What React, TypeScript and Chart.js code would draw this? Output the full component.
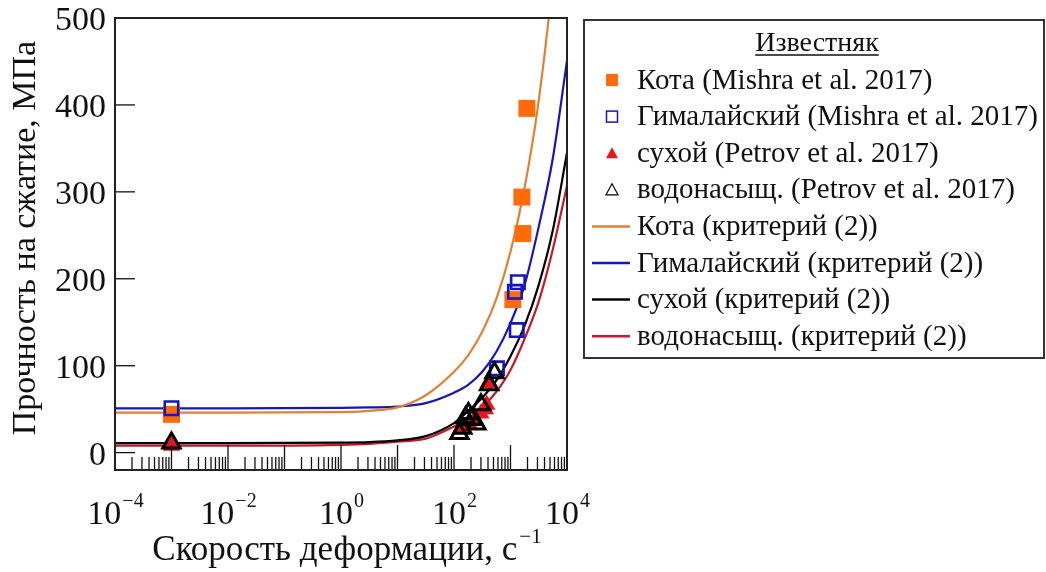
import React, { useEffect, useRef } from "react";
import { Chart, registerables } from "chart.js";

Chart.register(...registerables);

// Strain rates (1/s) at which the criterion (2) curves are sampled
const curveRates = [1e-4, 0.01, 1, 3.16, 10, 31.6, 100, 178, 316, 562, 1000, 1778, 3162, 5623, 10000];
// Criterion (2) strength, MPa
const kotaCurve = [46, 46, 46.5, 48, 52, 66, 93, 112, 139, 177, 231, 305, 405, 546, 738];
const himalayanCurve = [51, 51, 51.5, 52, 53, 57, 69, 78, 93, 116, 149, 193, 260, 339, 451];
const dryCurve = [11, 11, 11.5, 12, 14, 19, 34, 48, 63, 83, 111, 146, 193, 256, 345];
const wetCurve = [8, 8, 9, 10, 12.5, 16, 30, 39, 52, 70, 95, 131, 174, 234, 307];

// Experimental points
const kotaRates = [0.001, 1100, 1590, 1660, 1950];
const kotaStrength = [44, 176, 294, 252, 396];
const himalayanRates = [0.001, 575, 1200, 1290, 1350];
const himalayanStrength = [51, 97, 185, 141, 196];
const dryRates = [0.001, 150, 190, 240, 300, 360, 380, 400];
const dryStrength = [8, 28, 32, 38, 45, 50, 55, 80];
const wetRates = [0.001, 125, 140, 160, 180, 210, 250, 300, 420, 520];
const wetStrength = [11, 22, 28, 40, 45, 38, 33, 55, 78, 92];

// Axis ticks
const yTicks = [0, 100, 200, 300, 400, 500];
const xDecades = [-4, -3, -2, -1, 0, 1, 2, 3];
const xLabelExponents = [-4, -2, 0, 2, 4];

const legendTitle = "Известняк";
const legendLabels = [
  "Кота (Mishra et al. 2017)",
  "Гималайский (Mishra et al. 2017)",
  "сухой (Petrov et al. 2017)",
  "водонасыщ. (Petrov et al. 2017)",
  "Кота (критерий (2))",
  "Гималайский (критерий (2))",
  "сухой (критерий (2))",
  "водонасыщ. (критерий (2))",
];

const xTitle = "Скорость деформации, с";
const xTitleSup = "−1";
const yTitle = "Прочность на сжатие, МПа";

const ORANGE_PT = "#ff6a0a";
const ORANGE_LN = "#df8236";
const BLUE = "#1616bc";
const RED_PT = "#e8141e";
const RED_LN = "#c41a2c";
const BLACK = "#000000";

const SERIF = '"Liberation Serif", "Times New Roman", serif';

const toXY = (xs: number[], ys: number[]) => xs.map((x, i) => ({ x, y: ys[i] }));

const decorPlugin = {
  id: "decor",
  afterDatasetsDraw(chart: any) {
    const { ctx, chartArea: a, scales } = chart;
    const xs = scales.x;
    const ys = scales.y;
    ctx.save();

    const seg = (x1: number, y1: number, x2: number, y2: number) => {
      ctx.beginPath();
      ctx.moveTo(x1, y1);
      ctx.lineTo(x2, y2);
      ctx.stroke();
    };

    // inward ticks on the bottom axis (log decades with minor ticks)
    ctx.strokeStyle = "#111";
    ctx.lineWidth = 1.3;
    for (const d of xDecades) {
      for (let m = 1; m <= 9; m++) {
        const px = xs.getPixelForValue(m * Math.pow(10, d));
        seg(px, a.bottom, px, a.bottom - (m === 1 ? 25 : 13));
      }
    }
    // inward ticks on the left axis
    for (const t of yTicks) {
      const py = ys.getPixelForValue(t);
      seg(a.left, py, a.left + 20, py);
    }

    // plot frame
    ctx.strokeStyle = "#222";
    ctx.lineWidth = 2;
    ctx.strokeRect(a.left, a.top, a.right - a.left, a.bottom - a.top);

    ctx.fillStyle = "#111";
    // y tick labels
    ctx.font = `34px ${SERIF}`;
    ctx.textAlign = "right";
    ctx.textBaseline = "middle";
    for (const t of yTicks) {
      ctx.fillText(String(t), a.left - 9, ys.getPixelForValue(t) + 3);
    }

    // x tick labels, 10 with a raised exponent
    ctx.textAlign = "left";
    ctx.textBaseline = "alphabetic";
    for (const e of xLabelExponents) {
      const px = xs.getPixelForValue(Math.pow(10, e));
      const base = "10";
      const sup = e < 0 ? "−" + Math.abs(e) : String(e);
      ctx.font = `34px ${SERIF}`;
      const wb = ctx.measureText(base).width;
      ctx.font = `20px ${SERIF}`;
      const ws = ctx.measureText(sup).width;
      const x0 = px - (wb + ws) / 2;
      ctx.font = `34px ${SERIF}`;
      ctx.fillText(base, x0, a.bottom + 54);
      ctx.font = `20px ${SERIF}`;
      ctx.fillText(sup, x0 + wb + 1, a.bottom + 37);
    }

    // x axis title
    ctx.font = `35px ${SERIF}`;
    const wt = ctx.measureText(xTitle).width;
    ctx.font = `21px ${SERIF}`;
    const wts = ctx.measureText(xTitleSup).width;
    const tx0 = (a.left + a.right) / 2 + 5 - (wt + wts) / 2;
    ctx.font = `35px ${SERIF}`;
    ctx.fillText(xTitle, tx0, a.bottom + 90);
    ctx.font = `21px ${SERIF}`;
    ctx.fillText(xTitleSup, tx0 + wt + 2, a.bottom + 73);

    // y axis title
    ctx.save();
    ctx.translate(26, 238);
    ctx.rotate(-Math.PI / 2);
    ctx.font = `34px ${SERIF}`;
    ctx.textAlign = "center";
    ctx.textBaseline = "middle";
    ctx.fillText(yTitle, 0, 0);
    ctx.restore();

    // legend box
    const lx = 584;
    const ly = 20;
    ctx.strokeStyle = "#333";
    ctx.lineWidth = 2;
    ctx.strokeRect(lx, ly, 460, 338);

    ctx.font = `28px ${SERIF}`;
    ctx.textAlign = "center";
    ctx.textBaseline = "alphabetic";
    const titleX = 817;
    const titleY = 51;
    ctx.fillText(legendTitle, titleX, titleY);
    const tw = ctx.measureText(legendTitle).width;
    ctx.lineWidth = 1.5;
    ctx.strokeStyle = "#111";
    seg(titleX - tw / 2, titleY + 4, titleX + tw / 2, titleY + 4);

    const rowY = (i: number) => 80 + i * 36.6;
    const mx = 612;
    ctx.font = `29px ${SERIF}`;
    ctx.textAlign = "left";
    ctx.textBaseline = "middle";
    legendLabels.forEach((label, i) => {
      ctx.fillStyle = "#111";
      ctx.fillText(label, 637, rowY(i) + 1);
    });

    // legend markers
    const s = 6;
    let y = rowY(0);
    ctx.fillStyle = ORANGE_PT;
    ctx.fillRect(mx - s, y - s, 2 * s, 2 * s);
    y = rowY(1);
    ctx.strokeStyle = BLUE;
    ctx.lineWidth = 1.5;
    ctx.strokeRect(mx - s + 0.5, y - s + 0.5, 2 * s - 1, 2 * s - 1);
    const tri = (cy: number) => {
      ctx.beginPath();
      ctx.moveTo(mx, cy - 6);
      ctx.lineTo(mx + 6, cy + 5);
      ctx.lineTo(mx - 6, cy + 5);
      ctx.closePath();
    };
    tri(rowY(2));
    ctx.fillStyle = RED_PT;
    ctx.fill();
    tri(rowY(3));
    ctx.strokeStyle = BLACK;
    ctx.lineWidth = 1.2;
    ctx.stroke();

    const lineColors = [ORANGE_LN, BLUE, BLACK, RED_LN];
    lineColors.forEach((c, k) => {
      ctx.strokeStyle = c;
      ctx.lineWidth = 2.5;
      const yy = rowY(4 + k);
      seg(592, yy, 630, yy);
    });

    ctx.restore();
  },
};

export default function App() {
  const canvasRef = useRef<HTMLCanvasElement | null>(null);

  useEffect(() => {
    const canvas = canvasRef.current;
    if (!canvas) return;

    const curve = (data: number[], color: string) => ({
      type: "scatter" as const,
      data: toXY(curveRates, data),
      showLine: true,
      borderColor: color,
      backgroundColor: color,
      borderWidth: 2.2,
      pointRadius: 0,
      cubicInterpolationMode: "monotone" as const,
      order: 10,
    });

    const chart = new Chart(canvas, {
      type: "scatter",
      data: {
        datasets: [
          {
            data: toXY(kotaRates, kotaStrength),
            pointStyle: "rect",
            pointRadius: 12,
            backgroundColor: ORANGE_PT,
            borderColor: ORANGE_PT,
            borderWidth: 0,
            order: 3,
          },
          {
            data: toXY(himalayanRates, himalayanStrength),
            pointStyle: "rect",
            pointRadius: 9.5,
            backgroundColor: "rgba(255,255,255,0)",
            borderColor: BLUE,
            borderWidth: 2.6,
            order: 1,
          },
          {
            data: toXY(dryRates, dryStrength),
            pointStyle: "triangle",
            pointRadius: 10,
            backgroundColor: RED_PT,
            borderColor: RED_PT,
            borderWidth: 0,
            order: 2,
          },
          {
            data: toXY(wetRates, wetStrength),
            pointStyle: "triangle",
            pointRadius: 10,
            backgroundColor: "rgba(255,255,255,0)",
            borderColor: BLACK,
            borderWidth: 3,
            order: 0,
          },
          curve(kotaCurve, ORANGE_LN),
          curve(himalayanCurve, BLUE),
          curve(dryCurve, BLACK),
          curve(wetCurve, RED_LN),
        ],
      },
      options: {
        responsive: false,
        animation: false,
        devicePixelRatio: 1,
        layout: { padding: { left: 115, right: 479, top: 18, bottom: 102 } },
        scales: {
          x: { type: "logarithmic", min: 1e-4, max: 1e4, display: false },
          y: { type: "linear", min: -20, max: 500, display: false },
        },
        plugins: {
          legend: { display: false },
          tooltip: { enabled: false },
        },
      },
      plugins: [decorPlugin],
    });

    return () => chart.destroy();
  }, []);

  return (
    <div style={{ position: "absolute", left: 0, top: 0, width: 1046, height: 572, background: "#fff" }}>
      <canvas ref={canvasRef} width={1046} height={572} style={{ display: "block" }} />
    </div>
  );
}
